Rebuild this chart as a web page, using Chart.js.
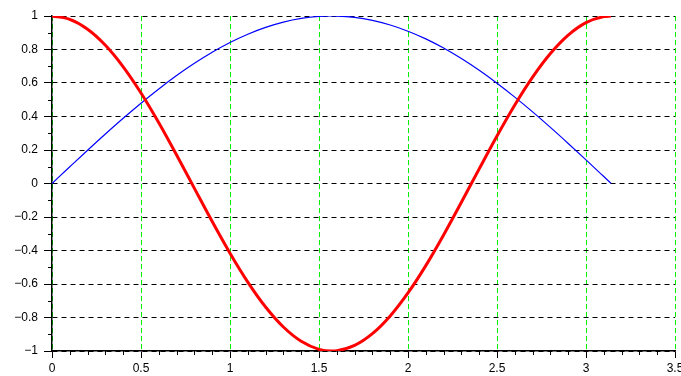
<!DOCTYPE html>
<html>
<head>
<meta charset="utf-8">
<script src="https://cdn.jsdelivr.net/npm/chart.js@4"></script>
<style>
  html, body { margin: 0; padding: 0; background: #fff; }
</style>
</head>
<body>
<canvas id="chart" width="681" height="376"></canvas>
<script>
// x positions (0 .. pi)
const xs = [0, 0.1, 0.2, 0.3, 0.4, 0.5, 0.6, 0.7, 0.8, 0.9, 1.0, 1.1, 1.2, 1.3, 1.4, 1.5, 1.57,
  1.6, 1.7, 1.8, 1.9, 2.0, 2.1, 2.2, 2.3, 2.4, 2.5, 2.6, 2.7, 2.8, 2.9, 3.0, 3.1, 3.14];

// blue curve
const plava = [0, 0.0998, 0.1987, 0.2955, 0.3894, 0.4794, 0.5646, 0.6442, 0.7174, 0.7833, 0.8415,
  0.8912, 0.9320, 0.9636, 0.9854, 0.9975, 1.0, 0.9996, 0.9917, 0.9738, 0.9463, 0.9093, 0.8632,
  0.8085, 0.7457, 0.6755, 0.5985, 0.5155, 0.4274, 0.3350, 0.2392, 0.1411, 0.0416, 0.0016];

// red curve
const crvena = [1, 0.9801, 0.9211, 0.8253, 0.6967, 0.5403, 0.3624, 0.1700, -0.0292, -0.2272, -0.4161,
  -0.5885, -0.7374, -0.8569, -0.9422, -0.9900, -1.0, -0.9983, -0.9668, -0.8968, -0.7910, -0.6536,
  -0.4903, -0.3073, -0.1122, 0.0875, 0.2837, 0.4685, 0.6347, 0.7756, 0.8855, 0.9602, 0.9965, 1.0];

// tick labels
const xTicks = [0, 0.5, 1, 1.5, 2, 2.5, 3, 3.5];
const yTicks = [-1, -0.8, -0.6, -0.4, -0.2, 0, 0.2, 0.4, 0.6, 0.8, 1];

const tocke = arr => xs.map((x, i) => ({ x, y: arr[i] }));
const fmt = v => {
  const r = Math.round(v * 10) / 10;
  return r < 0 ? '\u2212' + String(-r) : String(r);
};

// male crtice izmedju glavnih
const minorTicks = {
  id: 'minorTicks',
  afterDraw(chart) {
    const { ctx, scales: { x, y } } = chart;
    ctx.save();
    ctx.strokeStyle = '#000';
    ctx.lineWidth = 1;
    ctx.beginPath();
    for (let i = 0; i <= 35; i++) {
      if (i % 5 === 0) continue;
      const px = Math.round(x.getPixelForValue(i / 10)) + 0.5;
      ctx.moveTo(px, y.bottom);
      ctx.lineTo(px, y.bottom + 4);
    }
    for (let i = -10; i <= 10; i++) {
      if (i % 2 === 0) continue;
      const py = Math.round(y.getPixelForValue(i / 10)) + 0.5;
      ctx.moveTo(x.left, py);
      ctx.lineTo(x.left - 4, py);
    }
    ctx.stroke();
    ctx.restore();
  }
};

Chart.defaults.font.family = '"Liberation Sans", Arial, sans-serif';
Chart.defaults.font.size = 12;
Chart.defaults.color = '#000';

new Chart(document.getElementById('chart'), {
  type: 'line',
  data: {
    datasets: [
      {
        data: tocke(crvena),
        borderColor: '#ff0000',
        borderWidth: 3,
        pointRadius: 0,
        cubicInterpolationMode: 'monotone'
      },
      {
        data: tocke(plava),
        borderColor: '#0000ff',
        borderWidth: 1.2,
        pointRadius: 0,
        cubicInterpolationMode: 'monotone'
      }
    ]
  },
  options: {
    responsive: false,
    devicePixelRatio: 1,
    animation: false,
    layout: { padding: { top: 16, right: 6, left: 0, bottom: 0 } },
    plugins: { legend: { display: false }, tooltip: { enabled: false } },
    scales: {
      x: {
        type: 'linear',
        min: 0,
        max: 3.5,
        afterBuildTicks: s => { s.ticks = xTicks.map(v => ({ value: v })); },
        ticks: { callback: fmt, maxRotation: 0, padding: 3, autoSkip: false },
        grid: { color: '#00ee00', tickColor: '#000', tickLength: 7, lineWidth: 1 },
        border: { color: '#000', width: 1.5, dash: [5, 3] },
        afterFit: s => { s.height = 25; s.paddingLeft = 0; s.paddingRight = 0; }
      },
      y: {
        min: -1,
        max: 1,
        afterBuildTicks: s => { s.ticks = yTicks.map(v => ({ value: v })); },
        ticks: { callback: fmt, padding: 6, autoSkip: false },
        grid: { color: '#000', tickColor: '#000', tickLength: 8, lineWidth: 1 },
        border: { color: '#000', width: 1.5, dash: [5, 4] },
        afterFit: s => { s.width = 52; s.paddingTop = 0; s.paddingBottom = 0; }
      }
    }
  },
  plugins: [minorTicks]
});
</script>
</body>
</html>
